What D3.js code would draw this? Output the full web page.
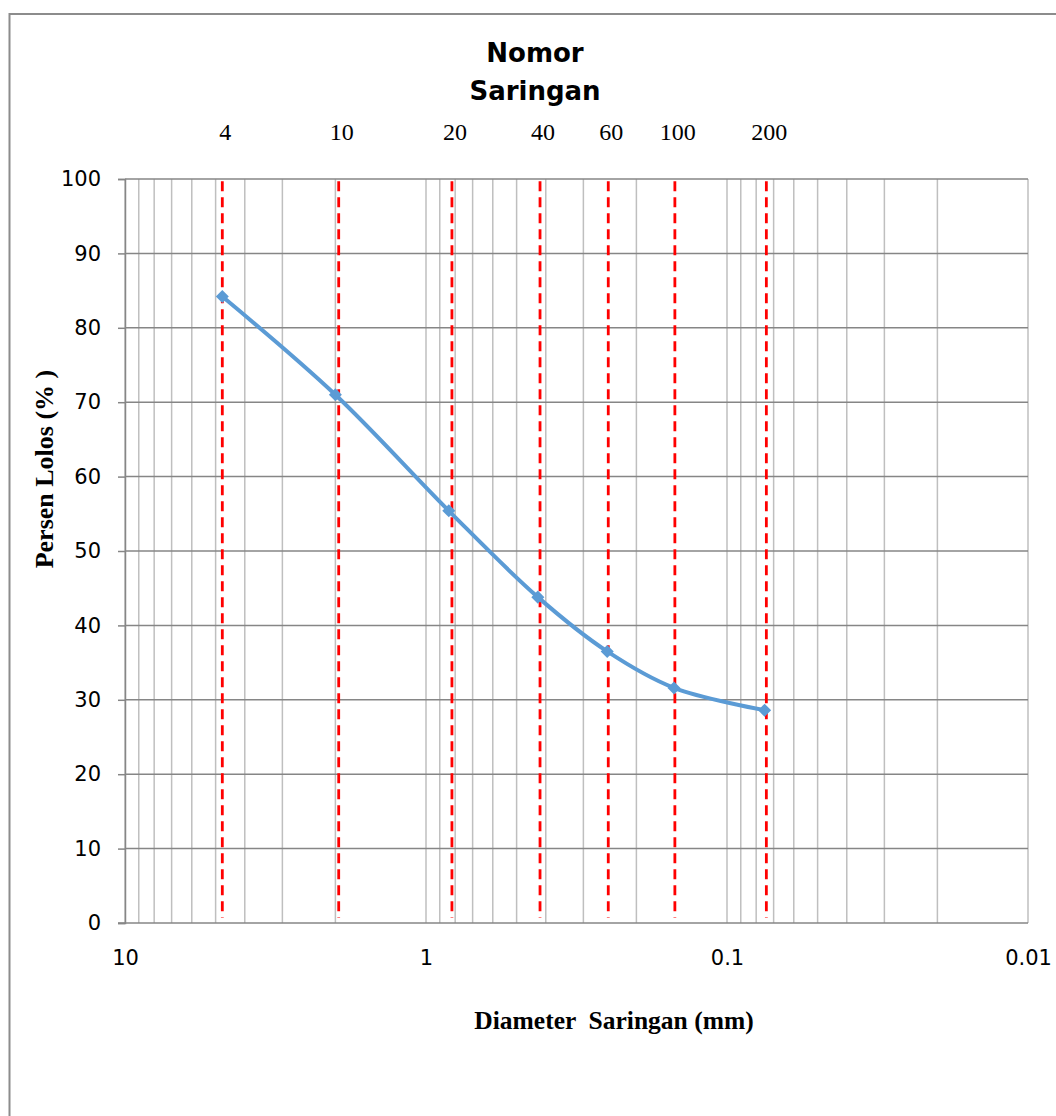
<!DOCTYPE html>
<html>
<head>
<meta charset="utf-8">
<script src="https://cdn.jsdelivr.net/npm/d3@7"></script>
<style>
    body { margin: 0; background: #ffffff; }
    svg { display: block; }
</style>
</head>
<body>
<div class="Chart"></div>
<script>
// sieve numbers, sieve openings (mm) and percent passing
const sieve_numbers = ["4", "10", "20", "40", "60", "100", "200"];
const sieve_sizes = [4.75, 2.0, 0.84, 0.425, 0.25, 0.15, 0.075];
const percent_passing = [84.2, 71.0, 55.4, 43.8, 36.5, 31.6, 28.6];

// the red guides were placed by hand, slightly off the points
const guide_sizes = [4.75, 1.95, 0.82, 0.418, 0.248, 0.149, 0.074];

const x_ticks = [10, 1, 0.1, 0.01];
const x_tick_labels = ["10", "1", "0.1", "0.01"];
const y_ticks = [0, 10, 20, 30, 40, 50, 60, 70, 80, 90, 100];

const width = 1056;
const height = 1116;
const margin = {top: 179, right: 28, bottom: 193, left: 125};

const svg = d3.select(".Chart")
    .append("svg")
    .attr("width", width)
    .attr("height", height);

// outer chart frame
svg.append("rect")
    .attr("x", 9.5)
    .attr("y", 14)
    .attr("width", 1200)
    .attr("height", 1200)
    .attr("fill", "none")
    .attr("stroke", "#8c8c8c")
    .attr("stroke-width", 2);

const x = d3.scaleLog()
    .domain([10, 0.01])
    .range([margin.left, width - margin.right]);

const y = d3.scaleLinear()
    .domain([0, 100])
    .range([height - margin.bottom, margin.top]);

const plot = svg.append("g");

// vertical gridlines: every 1..9 step of each decade
const minor_values = [];
[0.01, 0.1, 1].forEach(decade => {
    for (let i = 1; i <= 9; i++) {
        minor_values.push(decade * i);
    }
});
minor_values.push(10);

plot.append("g")
    .selectAll("line")
    .data(minor_values)
    .join("line")
    .attr("x1", d => x(d))
    .attr("x2", d => x(d))
    .attr("y1", y(0))
    .attr("y2", y(100))
    .attr("stroke", "#bfbfbf")
    .attr("stroke-width", 1.5);

// horizontal gridlines
plot.append("g")
    .selectAll("line")
    .data(y_ticks.filter(d => d > 0))
    .join("line")
    .attr("x1", x(10))
    .attr("x2", x(0.01))
    .attr("y1", d => y(d))
    .attr("y2", d => y(d))
    .attr("stroke", "#868686")
    .attr("stroke-width", 1.5);

// y axis
const y_axis = plot.append("g")
    .attr("transform", `translate(${x(10)},0)`)
    .call(d3.axisLeft(y).tickValues(y_ticks).tickSize(7).tickPadding(17));
y_axis.select(".domain").attr("stroke", "#868686").attr("stroke-width", 1.5);
y_axis.selectAll(".tick line").attr("stroke", "#868686").attr("stroke-width", 1.5);
y_axis.selectAll(".tick text")
    .attr("font-family", "DejaVu Sans")
    .attr("font-size", 21)
    .attr("fill", "#000000");

// x axis
const x_axis = plot.append("g")
    .attr("transform", `translate(0,${y(0)})`)
    .call(d3.axisBottom(x).tickValues(x_ticks).tickSize(0).tickPadding(27)
        .tickFormat((d, i) => x_tick_labels[i]));
x_axis.select(".domain").remove();
x_axis.selectAll(".tick text")
    .attr("font-family", "DejaVu Sans")
    .attr("font-size", 21)
    .attr("fill", "#000000");
plot.append("line")
    .attr("x1", x(10) - 7)
    .attr("x2", x(0.01))
    .attr("y1", y(0))
    .attr("y2", y(0))
    .attr("stroke", "#868686")
    .attr("stroke-width", 1.5);

// red dashed sieve guides
plot.append("g")
    .selectAll("line")
    .data(guide_sizes)
    .join("line")
    .attr("x1", d => x(d))
    .attr("x2", d => x(d))
    .attr("y1", y(99.7))
    .attr("y2", y(0.7))
    .attr("stroke", "#ff0000")
    .attr("stroke-width", 2.8)
    .attr("stroke-dasharray", "10,6");

// sieve number labels above the plot
svg.append("g")
    .selectAll("text")
    .data(sieve_numbers)
    .join("text")
    .attr("x", (d, i) => x(guide_sizes[i]) + 3)
    .attr("y", 140)
    .attr("text-anchor", "middle")
    .attr("font-family", "Liberation Serif")
    .attr("font-size", 24)
    .attr("fill", "#000000")
    .text(d => d);

// grading curve
const points = sieve_sizes.map((s, i) => ({size: s, value: percent_passing[i]}));

const line = d3.line()
    .x(d => x(d.size))
    .y(d => y(d.value))
    .curve(d3.curveCatmullRom.alpha(0.5));

plot.append("path")
    .datum(points)
    .attr("d", line)
    .attr("fill", "none")
    .attr("stroke", "#5b9bd5")
    .attr("stroke-width", 4);

plot.append("g")
    .selectAll("path")
    .data(points)
    .join("path")
    .attr("d", d3.symbol().type(d3.symbolSquare).size(85))
    .attr("transform", d => `translate(${x(d.size)},${y(d.value)}) rotate(45)`)
    .attr("fill", "#5b9bd5");

// titles
const title = svg.append("text")
    .attr("text-anchor", "middle")
    .attr("font-family", "DejaVu Sans")
    .attr("font-weight", "bold")
    .attr("font-size", 26)
    .attr("fill", "#000000");
title.append("tspan").attr("x", 535).attr("y", 62).text("Nomor");
title.append("tspan").attr("x", 535).attr("y", 100).text("Saringan");

svg.append("text")
    .attr("x", 614)
    .attr("y", 1029)
    .attr("text-anchor", "middle")
    .attr("font-family", "Liberation Serif")
    .attr("font-weight", "bold")
    .attr("font-size", 25.5)
    .attr("fill", "#000000")
    .attr("xml:space", "preserve")
    .text("Diameter  Saringan (mm)");

svg.append("text")
    .attr("transform", "translate(53,469) rotate(-90)")
    .attr("text-anchor", "middle")
    .attr("font-family", "Liberation Serif")
    .attr("font-weight", "bold")
    .attr("font-size", 26)
    .attr("fill", "#000000")
    .attr("xml:space", "preserve")
    .text("Persen Lolos (% )");
</script>
</body>
</html>
